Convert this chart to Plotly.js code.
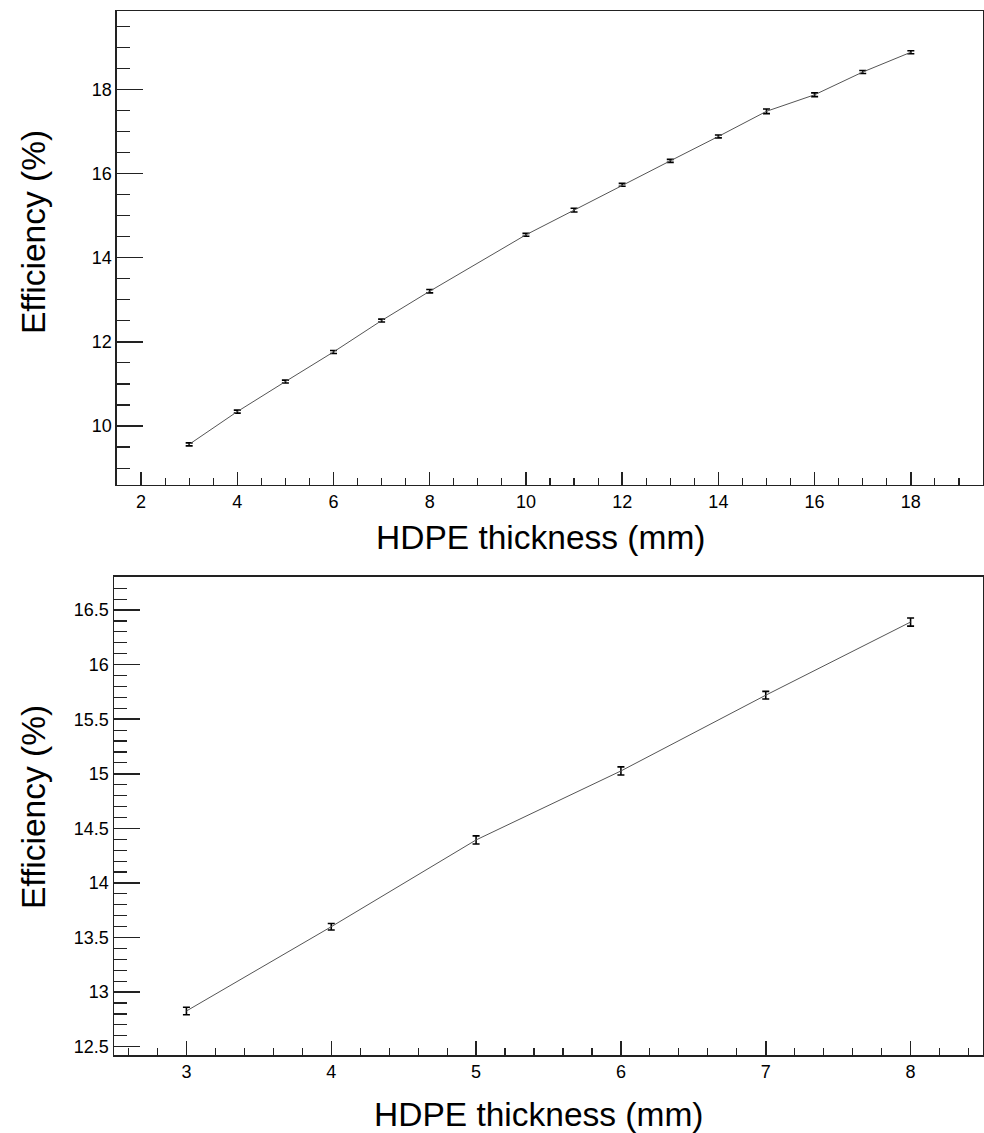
<!DOCTYPE html>
<html>
<head>
<meta charset="utf-8">
<script src="https://cdn.plot.ly/plotly-3.0.1.min.js"></script>
<style>html,body{margin:0;padding:0;background:#fff;}#chart{width:984px;height:1133px;}</style>
</head>
<body>
<div id="chart"></div>
<script>
// Top panel: HDPE thickness (mm) vs efficiency (%)
const topThickness = [3, 4, 5, 6, 7, 8, 10, 11, 12, 13, 14, 15, 16, 17, 18];
const topEfficiency = [9.565, 10.343, 11.056, 11.76, 12.506, 13.203, 14.543, 15.13, 15.73, 16.30, 16.88, 17.477, 17.87, 18.41, 18.88];
const topError = [0.035, 0.035, 0.035, 0.035, 0.035, 0.04, 0.035, 0.045, 0.035, 0.035, 0.035, 0.055, 0.045, 0.035, 0.035];

// Bottom panel
const bottomThickness = [3, 4, 5, 6, 7, 8];
const bottomEfficiency = [12.827, 13.599, 14.394, 15.026, 15.72, 16.39];
const bottomError = [0.035, 0.03, 0.037, 0.037, 0.035, 0.037];

const xTitle = 'HDPE thickness (mm)';
const yTitle = 'Efficiency (%)';

const font = 'Liberation Sans, Arial, Helvetica, sans-serif';
const lineCol = '#555555';

function errStyle(arr) {
  return {type: 'data', array: arr, visible: true, color: '#000', thickness: 1.6, width: 3.5};
}

const traces = [
  {x: topThickness, y: topEfficiency, error_y: errStyle(topError), type: 'scatter', mode: 'lines',
   line: {color: lineCol, width: 1}, xaxis: 'x', yaxis: 'y', showlegend: false},
  {x: bottomThickness, y: bottomEfficiency, error_y: errStyle(bottomError), type: 'scatter', mode: 'lines',
   line: {color: lineCol, width: 1}, xaxis: 'x2', yaxis: 'y2', showlegend: false}
];

function axisBase(extra) {
  return Object.assign({
    showgrid: false, zeroline: false, showline: true, mirror: true,
    linecolor: '#222', linewidth: 1.5, ticks: 'inside', tickcolor: '#222', tickwidth: 1.5,
    tickfont: {family: font, size: 18, color: '#000'},
    fixedrange: true
  }, extra);
}

const titleFont = {family: font, size: 33.5, color: '#000'};
function title(text, x, y, angle) {
  return {text: text, xref: 'paper', yref: 'paper', x: x, y: y, xanchor: 'center', yanchor: 'middle',
          showarrow: false, textangle: angle, font: titleFont};
}

const layout = {
  width: 984, height: 1133,
  margin: {l: 114, r: 1, t: 11, b: 78},
  paper_bgcolor: '#fff', plot_bgcolor: '#fff',
  font: {family: font, color: '#000'},
  xaxis: axisBase({
    domain: [0.00345, 1], range: [1.5, 19.5], dtick: 2, tick0: 0, ticklen: 13,
    minor: {dtick: 0.5, tick0: 0, ticklen: 7, ticks: 'inside', tickcolor: '#222', tickwidth: 1.2},
    anchor: 'y'
  }),
  yaxis: axisBase({
    domain: [0.546, 1], range: [8.6, 19.86], dtick: 2, tick0: 0, ticklen: 26,
    minor: {dtick: 0.5, tick0: 0, ticklen: 13, ticks: 'inside', tickcolor: '#222', tickwidth: 1.2},
    anchor: 'x'
  }),
  xaxis2: axisBase({
    domain: [0, 1], range: [2.5, 8.5], dtick: 1, tick0: 0, ticklen: 14,
    minor: {dtick: 0.2, tick0: 0, ticklen: 7, ticks: 'inside', tickcolor: '#222', tickwidth: 1.2},
    anchor: 'y2'
  }),
  yaxis2: axisBase({
    domain: [0, 0.4581], range: [12.424, 16.805], dtick: 0.5, tick0: 0, ticklen: 26,
    minor: {dtick: 0.1, tick0: 0, ticklen: 13, ticks: 'inside', tickcolor: '#222', tickwidth: 1.2},
    anchor: 'x2'
  }),
  annotations: [
    title(xTitle, (540 - 114) / 869, (1055 - 537) / 1044, 0),
    title(xTitle, (538 - 114) / 869, (1055 - 1114) / 1044, 0),
    title(yTitle, (33 - 114) / 869, (1055 - 232) / 1044, -90),
    title(yTitle, (33 - 114) / 869, (1055 - 807) / 1044, -90)
  ]
};

Plotly.newPlot('chart', traces, layout, {staticPlot: true, displayModeBar: false});
</script>
</body>
</html>
